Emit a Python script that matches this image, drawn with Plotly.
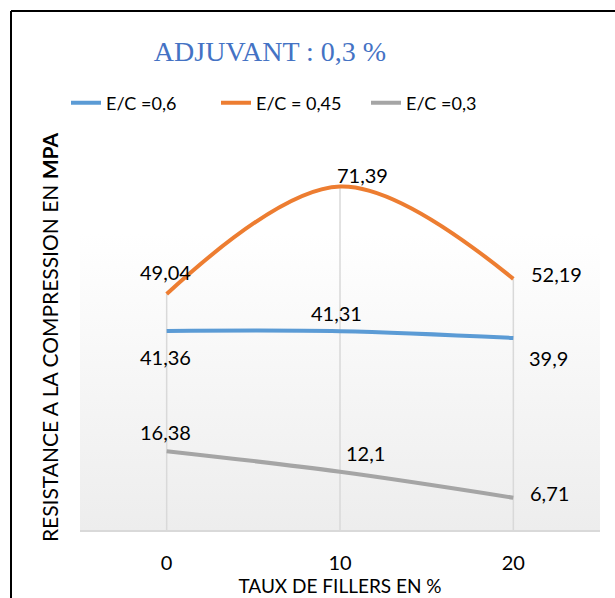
import plotly.graph_objects as go

# ---- data ----
fillers = [0, 10, 20]
tick_labels = ["0", "10", "20"]
series_names = ["E/C =0,6", "E/C = 0,45", "E/C =0,3"]
ec_06 = [41.36, 41.31, 39.9]
ec_045 = [49.04, 71.39, 52.19]
ec_03 = [16.38, 12.1, 6.71]
labels_06 = ["41,36", "41,31", "39,9"]
labels_045 = ["49,04", "71,39", "52,19"]
labels_03 = ["16,38", "12,1", "6,71"]

colors = ["#5b9bd5", "#ed7d31", "#a5a5a5"]
series = [ec_06, ec_045, ec_03]
labels = [labels_06, labels_045, labels_03]
# label offsets (px) per series / point
offsets = [
    [(-1, -26), (-4, 18), (35, -20)],
    [(-1, 22), (22, 11), (43, 5)],
    [(-1, 19), (25, 19), (36, 5)],
]

W, H = 615, 598
ML, MR, MT, MB = 80, 15, 145, 68
PW, PH = W - ML - MR, H - MT - MB
YMAX = 80
FONT = "Lato"

fig = go.Figure()

# plot-area gradient background
grad_top = (530 - 233) / PH * YMAX
fig.add_trace(go.Scatter(
    x=[-5, 25, 25, -5, -5], y=[0, 0, grad_top, grad_top, 0],
    fill="toself", mode="none", hoverinfo="skip", showlegend=False,
    fillgradient=dict(type="vertical", colorscale=[[0, "#ededed"], [1, "#ffffff"]]),
))

# drop lines from highest value to axis
dx, dy = [], []
for i, xv in enumerate(fillers):
    dx += [xv, xv, None]
    dy += [0, max(s[i] for s in series), None]
fig.add_trace(go.Scatter(x=dx, y=dy, mode="lines", line=dict(color="#d9d9d9", width=1.5),
                         hoverinfo="skip", showlegend=False))

for name, vals, col in zip(series_names, series, colors):
    fig.add_trace(go.Scatter(
        x=fillers, y=vals, name=name, mode="lines",
        line=dict(color=col, width=4, shape="spline", smoothing=1),
    ))

for vals, labs, offs in zip(series, labels, offsets):
    for xv, yv, t, (ox, oy) in zip(fillers, vals, labs, offs):
        fig.add_annotation(x=xv, y=yv, text=t, showarrow=False, xshift=ox, yshift=oy,
                           font=dict(family=FONT, size=20, color="#000000"))

# chart border (left and top)
bx = (11 - ML) / PW
by = (H - MB - 11) / PH
fig.add_shape(type="line", xref="paper", yref="paper", x0=bx, x1=bx, y0=by, y1=-0.3,
              line=dict(color="#000000", width=2))
fig.add_shape(type="line", xref="paper", yref="paper", x0=bx, x1=1.2, y0=by, y1=by,
              line=dict(color="#000000", width=2))

fig.update_layout(
    width=W, height=H,
    margin=dict(l=ML, r=MR, t=MT, b=MB, autoexpand=False),
    paper_bgcolor="#ffffff", plot_bgcolor="rgba(0,0,0,0)",
    title=dict(text="ADJUVANT : 0,3 %", x=(270) / W, xanchor="center",
               y=1 - 51 / H, yanchor="middle",
               font=dict(family="Liberation Serif", size=28, color="#4472c4")),
    legend=dict(orientation="h", x=(66 - ML) / PW, xanchor="left",
                y=(H - MB - 103) / PH, yanchor="middle",
                font=dict(family=FONT, size=18, color="#000000"),
                bgcolor="rgba(0,0,0,0)", itemwidth=30,
                entrywidth=105, entrywidthmode="pixels"),
    showlegend=True,
)
fig.update_xaxes(range=[-5, 25], tickvals=fillers, ticktext=tick_labels, automargin=False,
                 showgrid=False, zeroline=False, showline=True, linecolor="#d9d9d9", linewidth=1.5,
                 ticks="", ticklabelstandoff=14,
                 tickfont=dict(family=FONT, size=20, color="#000000"),
                 title=dict(text="TAUX DE FILLERS EN %", standoff=7,
                            font=dict(family=FONT, size=19, color="#000000")))
fig.update_yaxes(range=[0, YMAX], showgrid=False, zeroline=False, showticklabels=False,
                 showline=False, ticks="", automargin=False,
                 title=dict(text="RESISTANCE A LA COMPRESSION EN <b>MPA</b>", standoff=14,
                            font=dict(family=FONT, size=21, color="#000000")))

fig.write_html("out.html")
